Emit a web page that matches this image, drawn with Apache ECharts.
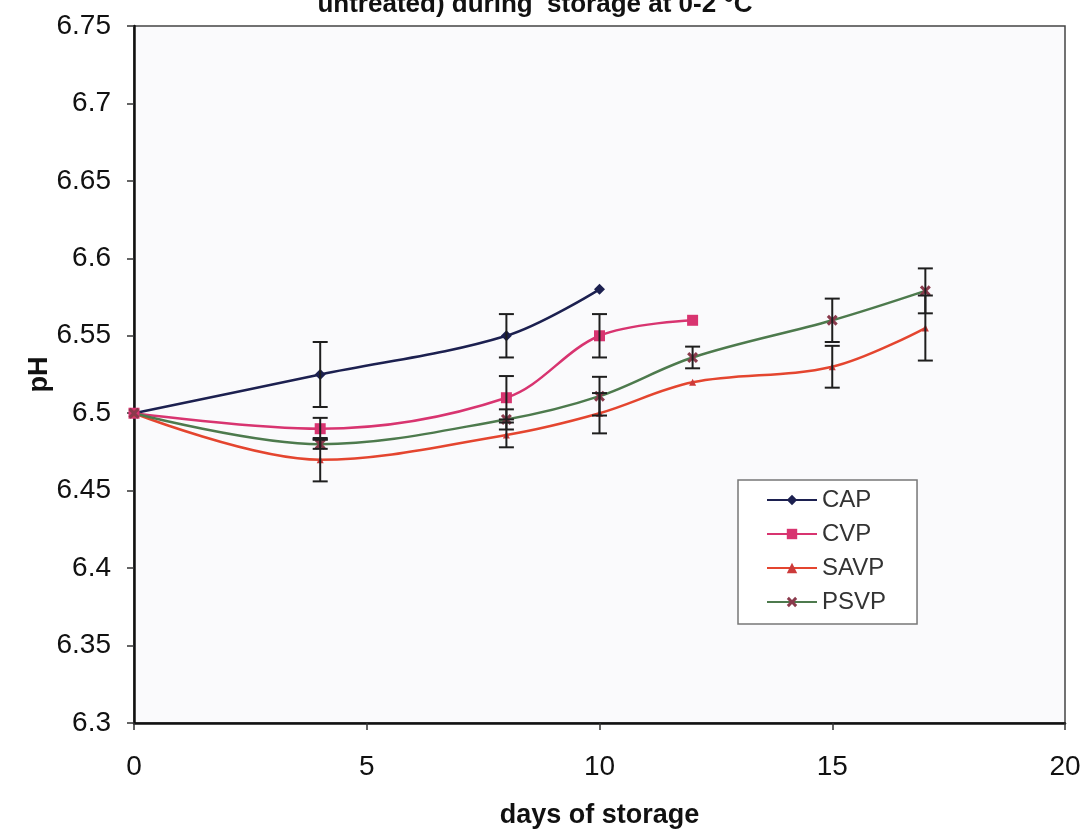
<!DOCTYPE html>
<html>
<head>
<meta charset="utf-8">
<script src="https://cdn.jsdelivr.net/npm/echarts@6/dist/echarts.min.js"></script>
<style>html,body{margin:0;padding:0;background:#fff;}#c{width:1087px;height:832px;}</style>
</head>
<body>
<div id="c"></div>
<script>
var titleText = "untreated) during  storage at 0-2 °C";
var xTicks = [0, 5, 10, 15, 20];
var yTicks = [6.3, 6.35, 6.4, 6.45, 6.5, 6.55, 6.6, 6.65, 6.7, 6.75];

var seriesNames = ["CAP", "CVP", "SAVP", "PSVP"];

var capDays = [0, 4, 8, 10];
var capPH   = [6.5, 6.525, 6.55, 6.58];
var capErr  = [0, 0.021, 0.014, 0];

var cvpDays = [0, 4, 8, 10, 12];
var cvpPH   = [6.5, 6.49, 6.51, 6.55, 6.56];
var cvpErr  = [0, 0.007, 0.014, 0.014, 0];

var savpDays = [0, 4, 8, 10, 12, 15, 17];
var savpPH   = [6.5, 6.47, 6.486, 6.5, 6.52, 6.53, 6.555];
var savpErr  = [0, 0.014, 0.008, 0.013, 0, 0.0135, 0.021];

var psvpDays = [0, 4, 8, 10, 12, 15, 17];
var psvpPH   = [6.5, 6.48, 6.496, 6.511, 6.536, 6.56, 6.579];
var psvpErr  = [0, 0.003, 0.0065, 0.0125, 0.007, 0.014, 0.0145];

function pairs(days, vals) {
  return days.map(function (d, i) { return [d, vals[i]]; });
}
function errData(days, vals, errs) {
  var out = [];
  days.forEach(function (d, i) {
    if (errs[i] > 0) out.push([d, vals[i] - errs[i], vals[i] + errs[i]]);
  });
  return out;
}

var chart = echarts.init(document.getElementById('c'));
var FONT = "'Liberation Sans', Arial, sans-serif";
var xSym = 'path://M0,2L2,0L5,3L8,0L10,2L7,5L10,8L8,10L5,7L2,10L0,8L3,5Z';

function errorSeries(name, data) {
  return {
    type: 'custom',
    name: name + ' err',
    z: 5,
    silent: true,
    data: data,
    encode: { x: 0, y: [1, 2] },
    renderItem: function (params, api) {
      var x = api.value(0);
      var lo = api.coord([x, api.value(1)]);
      var hi = api.coord([x, api.value(2)]);
      var hw = 7.5;
      var st = { stroke: '#1e1e1e', lineWidth: 2 };
      return {
        type: 'group',
        children: [
          { type: 'line', shape: { x1: lo[0], y1: lo[1], x2: hi[0], y2: hi[1] }, style: st },
          { type: 'line', shape: { x1: lo[0] - hw, y1: lo[1], x2: lo[0] + hw, y2: lo[1] }, style: st },
          { type: 'line', shape: { x1: hi[0] - hw, y1: hi[1], x2: hi[0] + hw, y2: hi[1] }, style: st }
        ]
      };
    }
  };
}

var option = {
  backgroundColor: '#ffffff',
  animation: false,
  title: {
    text: titleText,
    left: 530,
    textAlign: 'center',
    top: -13,
    textStyle: { fontFamily: FONT, fontWeight: 'bold', fontSize: 26, color: '#111' }
  },
  legend: {
    orient: 'vertical',
    left: 738,
    top: 480,
    data: seriesNames,
    backgroundColor: '#ffffff',
    borderColor: '#777',
    borderWidth: 1.5,
    borderRadius: 0,
    padding: [8, 31, 10, 28],
    itemWidth: 50,
    itemHeight: 13,
    itemGap: 10,
    textStyle: { fontFamily: FONT, fontSize: 24, color: '#333' }
  },
  grid: {
    left: 134, right: 22, top: 26, bottom: 109,
    outerBoundsMode: 'none',
    containLabel: false,
    show: true,
    backgroundColor: '#fafafc',
    borderColor: '#444',
    borderWidth: 1.5
  },
  xAxis: {
    type: 'value',
    min: 0, max: 20, interval: 5,
    name: 'days of storage',
    nameLocation: 'middle',
    nameGap: 79,
    nameMoveOverlap: false,
    nameTextStyle: { fontFamily: FONT, fontWeight: 'bold', fontSize: 27, color: '#111' },
    axisLine: { show: true, lineStyle: { color: '#111', width: 2.5 } },
    axisTick: { show: true, inside: false, length: 7, lineStyle: { color: '#333', width: 1.5 } },
    axisLabel: { margin: 30, fontFamily: FONT, fontSize: 28, color: '#111',
      formatter: function (v) { return xTicks.indexOf(v) >= 0 ? String(v) : ''; } },
    splitLine: { show: false }
  },
  yAxis: {
    type: 'value',
    min: 6.3, max: 6.75, interval: 0.05,
    name: 'pH',
    nameLocation: 'middle',
    nameGap: 81,
    nameMoveOverlap: false,
    nameRotate: 90,
    nameTextStyle: { fontFamily: FONT, fontWeight: 'bold', fontSize: 27, color: '#111' },
    axisLine: { show: true, lineStyle: { color: '#111', width: 2.5 } },
    axisTick: { show: true, inside: false, length: 7, lineStyle: { color: '#333', width: 1.5 } },
    axisLabel: { margin: 23, fontFamily: FONT, fontSize: 28, color: '#111',
      formatter: function (v) {
        var r = Math.round(v * 100) / 100;
        for (var i = 0; i < yTicks.length; i++) if (Math.abs(yTicks[i] - r) < 1e-6) return String(yTicks[i]);
        return '';
      } },
    splitLine: { show: false }
  },
  series: [
    {
      name: 'CAP', type: 'line', data: pairs(capDays, capPH), smooth: 0.35, z: 4,
      symbol: 'diamond', symbolSize: 11,
      lineStyle: { color: '#1c2050', width: 2.5 },
      itemStyle: { color: '#1c2050' }
    },
    {
      name: 'CVP', type: 'line', data: pairs(cvpDays, cvpPH), smooth: 0.35, z: 4,
      symbol: 'rect', symbolSize: 11,
      lineStyle: { color: '#d83470', width: 2.5 },
      itemStyle: { color: '#d83470' }
    },
    {
      name: 'SAVP', type: 'line', data: pairs(savpDays, savpPH), smooth: 0.35, z: 4,
      symbol: 'triangle', symbolSize: 7,
      lineStyle: { color: '#e4452f', width: 2.5 },
      itemStyle: { color: '#cc3a3a' }
    },
    {
      name: 'PSVP', type: 'line', data: pairs(psvpDays, psvpPH), smooth: 0.35, z: 4,
      symbol: xSym, symbolSize: 11,
      lineStyle: { color: '#4d7a4d', width: 2.5 },
      itemStyle: { color: '#8a3a4c' }
    },
    errorSeries('CAP', errData(capDays, capPH, capErr)),
    errorSeries('CVP', errData(cvpDays, cvpPH, cvpErr)),
    errorSeries('SAVP', errData(savpDays, savpPH, savpErr)),
    errorSeries('PSVP', errData(psvpDays, psvpPH, psvpErr))
  ]
};
chart.setOption(option);
</script>
</body>
</html>
